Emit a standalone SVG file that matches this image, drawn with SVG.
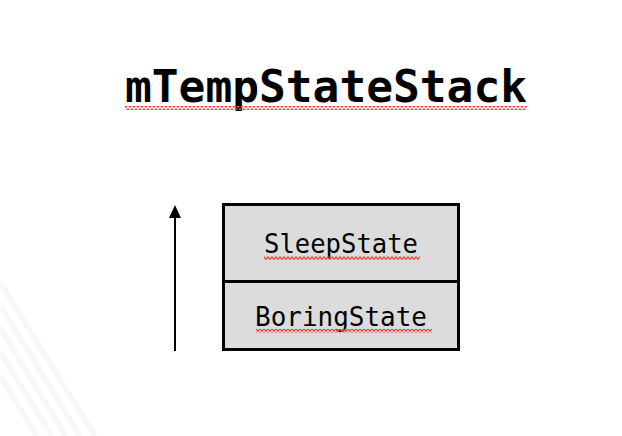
<svg xmlns="http://www.w3.org/2000/svg" width="622" height="436" viewBox="0 0 622 436">
<style>
.title{font-family:"DejaVu Sans Mono","Liberation Mono",monospace;font-weight:bold;font-size:44px;fill:#000}
.lbl{font-family:"DejaVu Sans Mono","Liberation Mono",monospace;font-size:27px;fill:#000}
.box{fill:#dcdcdc;stroke:#000;stroke-width:3}
.stripe{stroke:#f7f8fa;stroke-width:6;fill:none}
</style>
<defs>
<pattern id="zz" width="4" height="4" patternUnits="userSpaceOnUse">
<path d="M0,0.6 L2,3.4 L4,0.6" fill="none" stroke="#ec4a3f" stroke-width="1.2"/>
</pattern>
</defs>
<rect width="622" height="436" fill="#fff"/>
<g id="bg">
<path class="stripe" d="M0,282 L95,436"/>
<path class="stripe" d="M0,305 L80,436"/>
<path class="stripe" d="M0,328 L66,436"/>
<path class="stripe" d="M0,352 L52,436"/>
<path class="stripe" d="M0,376 L37,436"/>
</g>
<g id="title">
<text class="title" x="326" y="102" text-anchor="middle" textLength="402" lengthAdjust="spacingAndGlyphs">mTempStateStack</text>
<rect x="125" y="106" width="402" height="4" fill="url(#zz)"/>
</g>
<g id="sleep">
<rect class="box" x="223.5" y="204.5" width="235" height="77"/>
<text class="lbl" x="341" y="253" text-anchor="middle" textLength="154" lengthAdjust="spacingAndGlyphs">SleepState</text>
<rect x="264" y="256" width="156" height="4" fill="url(#zz)"/>
</g>
<g id="boring">
<rect class="box" x="223.5" y="281.5" width="235" height="68"/>
<text class="lbl" x="341" y="326" text-anchor="middle" textLength="172" lengthAdjust="spacingAndGlyphs">BoringState</text>
<rect x="256" y="329" width="176" height="4" fill="url(#zz)"/>
</g>
<g id="connectors">
<line x1="175" y1="351" x2="175" y2="216" stroke="#000" stroke-width="2"/>
<polygon points="175,205 169,218 181,218" fill="#000"/>
</g>
</svg>
